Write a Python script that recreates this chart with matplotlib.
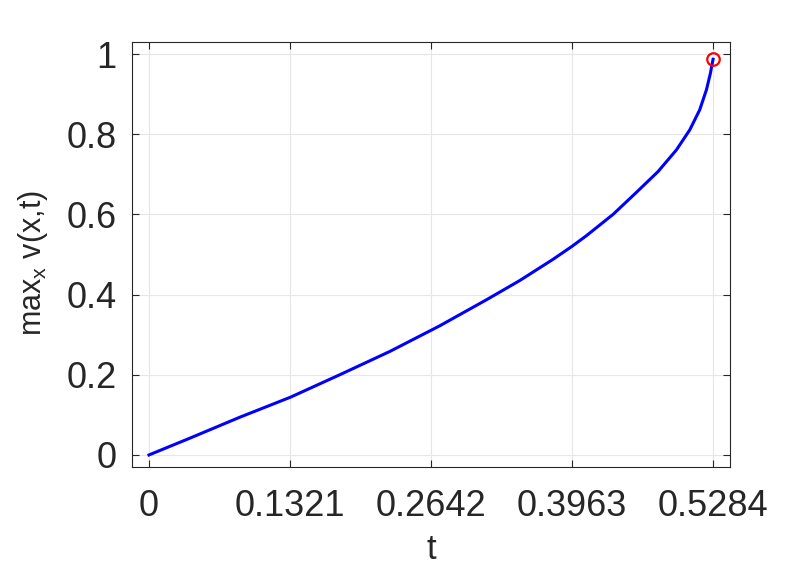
import numpy as np
import matplotlib
matplotlib.use("Agg")
import matplotlib.pyplot as plt

plt.rcParams['font.family'] = ['Liberation Sans', 'DejaVu Sans']
plt.rcParams['mathtext.fontset'] = 'custom'
plt.rcParams['mathtext.rm'] = 'Liberation Sans'

# values
t_vals = [0, 0.0381, 0.0850, 0.1325, 0.1787, 0.2255, 0.2723, 0.3161, 0.3473,
          0.3785, 0.3966, 0.4098, 0.4347, 0.4566, 0.4769, 0.4941, 0.5066,
          0.5159, 0.5222, 0.5259, 0.5275, 0.5284]
v_vals = [0, 0.0416, 0.094, 0.144, 0.200, 0.258, 0.322, 0.387, 0.435,
          0.488, 0.521, 0.547, 0.600, 0.655, 0.707, 0.761, 0.811,
          0.861, 0.911, 0.952, 0.975, 0.987]
x_ticks = [0, 0.1321, 0.2642, 0.3963, 0.5284]
x_tick_labels = ['0', '0.1321', '0.2642', '0.3963', '0.5284']
y_ticks = [0, 0.2, 0.4, 0.6, 0.8, 1.0]
y_tick_labels = ['0', '0.2', '0.4', '0.6', '0.8', '1']

fig = plt.figure(figsize=(8.06, 5.67), dpi=100)
ax = fig.add_axes([0.1638, 0.1764, 0.7419, 0.7495])

dark = '#262626'
ax.plot(t_vals, v_vals, color='#0000ff', linewidth=2.2, zorder=3,
        solid_joinstyle='round')
# blow-up point
ax.plot(t_vals[-1], v_vals[-1], 'o', markerfacecolor='none',
        markeredgecolor='#ff0000', markersize=9, markeredgewidth=1.6, zorder=4)

ax.set_xlim(-0.03 * 0.5284, 1.03 * 0.5284)
ax.set_ylim(-0.03, 1.03)
ax.set_xticks(x_ticks)
ax.set_xticklabels(x_tick_labels)
ax.set_yticks(y_ticks)
ax.set_yticklabels(y_tick_labels)

ax.grid(True, color='#e6e6e6', linewidth=0.8)
ax.set_axisbelow(True)
ax.tick_params(direction='in', length=5, width=0.8, colors=dark,
               labelsize=26, top=True, right=True)
ax.tick_params(axis='x', pad=16)
ax.tick_params(axis='y', pad=11)
for s in ax.spines.values():
    s.set_color(dark)
    s.set_linewidth(0.8)

ax.set_xlabel('t', fontsize=25, color=dark, labelpad=6)
ax.set_ylabel(r'max$_\mathregular{x}$ v(x,t)', fontsize=22, color=dark, labelpad=12)
ax.yaxis.label.set_y(0.48)

fig.savefig('out.png', dpi=100)
